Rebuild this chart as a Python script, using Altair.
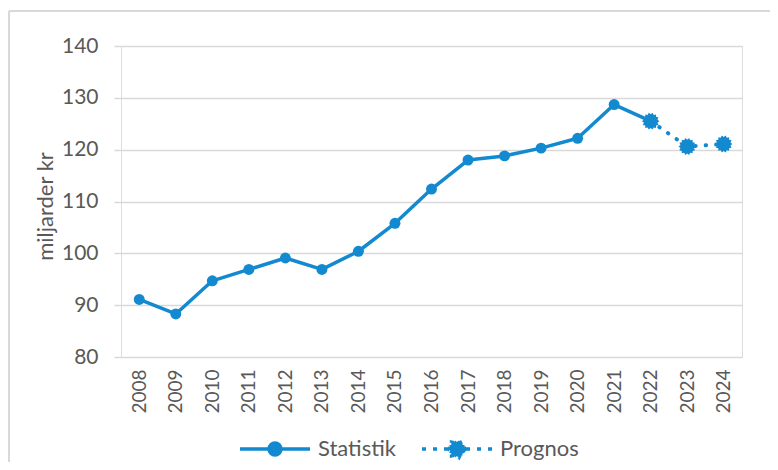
import math
import altair as alt
import pandas as pd

years = [str(y) for y in range(2008, 2025)]
statistik_years = years[:15]          # 2008-2022
statistik = [91.1, 88.3, 94.7, 96.9, 99.1, 96.9, 100.4, 105.8, 112.4, 118.0,
             118.8, 120.3, 122.2, 128.7, 125.5]
prognos_years = ["2022", "2023", "2024"]
prognos = [125.5, 120.6, 121.1]
y_ticks = [80, 90, 100, 110, 120, 130, 140]

BLUE = "#1389D0"
GRAY = "#595959"
FONT = "Lato"

df_s = pd.DataFrame({"year": statistik_years, "value": statistik, "series": "Statistik"})
df_p = pd.DataFrame({"year": prognos_years, "value": prognos, "series": "Prognos"})
df_frame = pd.DataFrame({"k": [0]})


def burst(n=14, r_out=1.0, r_in=0.8, scale=1.0):
    pts = []
    for i in range(2 * n):
        r = (r_out if i % 2 == 0 else r_in) * scale
        a = math.pi * i / n
        pts.append(f"{r * math.cos(a):.3f},{r * math.sin(a):.3f}")
    return "M" + "L".join(pts) + "Z"


BURST = burst()
LEG_STAT = "M-1,0H1M0.17,0A0.17,0.17,0,1,1,-0.17,0A0.17,0.17,0,1,1,0.17,0Z"
LEG_PROG = "M-1,0H1" + burst(scale=0.25)

x_enc = alt.X("year:O", sort=years, scale=alt.Scale(domain=years, type="point", padding=0.5),
              axis=alt.Axis(title=None, labelAngle=270, labelAlign="right", labelBaseline="middle",
                            labelPadding=12, ticks=False, domain=False, grid=False,
                            labelFontSize=19, labelColor=GRAY, labelFont=FONT))
y_enc = alt.Y("value:Q", scale=alt.Scale(domain=[80, 140], nice=False, zero=False),
              axis=alt.Axis(values=y_ticks, title="miljarder kr", domain=False,
                            tickColor="#d9d9d9", tickSize=7, tickWidth=1.5,
                            gridColor="#d9d9d9", gridWidth=1.5,
                            labelPadding=16, labelFontSize=21, labelColor=GRAY, labelFont=FONT,
                            titleFontSize=22, titleColor=GRAY, titleFont=FONT, titleFontWeight="normal",
                            titleX=-76, titleY=160, titleAngle=270, titleAlign="center",
                            titleBaseline="middle"))

common_leg = dict(title=None, orient="none", direction="horizontal", legendY=366,
                  symbolSize=4900, labelOffset=6, labelFontSize=22, labelColor=GRAY,
                  labelFont=FONT, symbolStrokeWidth=3.5, symbolFillColor=BLUE,
                  symbolStrokeColor=BLUE, symbolOpacity=1)

color_s = alt.Color("series:N", scale=alt.Scale(domain=["Statistik"], range=[BLUE]),
                    legend=alt.Legend(legendX=117, symbolType=LEG_STAT, **common_leg))
color_p = alt.Color("series:N", scale=alt.Scale(domain=["Prognos"], range=[BLUE]),
                    legend=alt.Legend(legendX=299, symbolType=LEG_PROG, symbolDash=[4, 7], **common_leg))

line_s = alt.Chart(df_s).mark_line(strokeWidth=3.5, strokeCap="round", strokeJoin="round").encode(
    x=x_enc, y=y_enc, color=color_s)
pts_s = alt.Chart(df_s).mark_point(shape="circle", filled=True, size=120, opacity=1).encode(
    x=x_enc, y=y_enc, color=color_s)

line_p = alt.Chart(df_p).mark_line(strokeWidth=4, strokeCap="round", strokeDash=[0.5, 10]).encode(
    x=x_enc, y=y_enc, color=color_p)
pts_p = alt.Chart(df_p).mark_point(shape=BURST, filled=True, size=300, opacity=1).encode(
    x=x_enc, y=y_enc, color=color_p)

frame_top = alt.Chart(df_frame).mark_rule(color="#d9d9d9", strokeWidth=2).encode(
    x=alt.value(-112), x2=alt.value(660), y=alt.value(-35))
frame_left = alt.Chart(df_frame).mark_rule(color="#d9d9d9", strokeWidth=2).encode(
    x=alt.value(-112), y=alt.value(-35), y2=alt.value(430))

chart = alt.layer(frame_top, frame_left, alt.layer(line_s, pts_s), alt.layer(line_p, pts_p)).resolve_scale(
    color="independent"
).properties(
    width=621, height=311,
    autosize=alt.AutoSizeParams(type="none"),
    padding={"left": 113, "top": 38, "right": 28, "bottom": 105},
).configure_view(stroke=None).configure(background="white")

chart.save("out.html", embed_options={"renderer": "svg", "actions": False})
